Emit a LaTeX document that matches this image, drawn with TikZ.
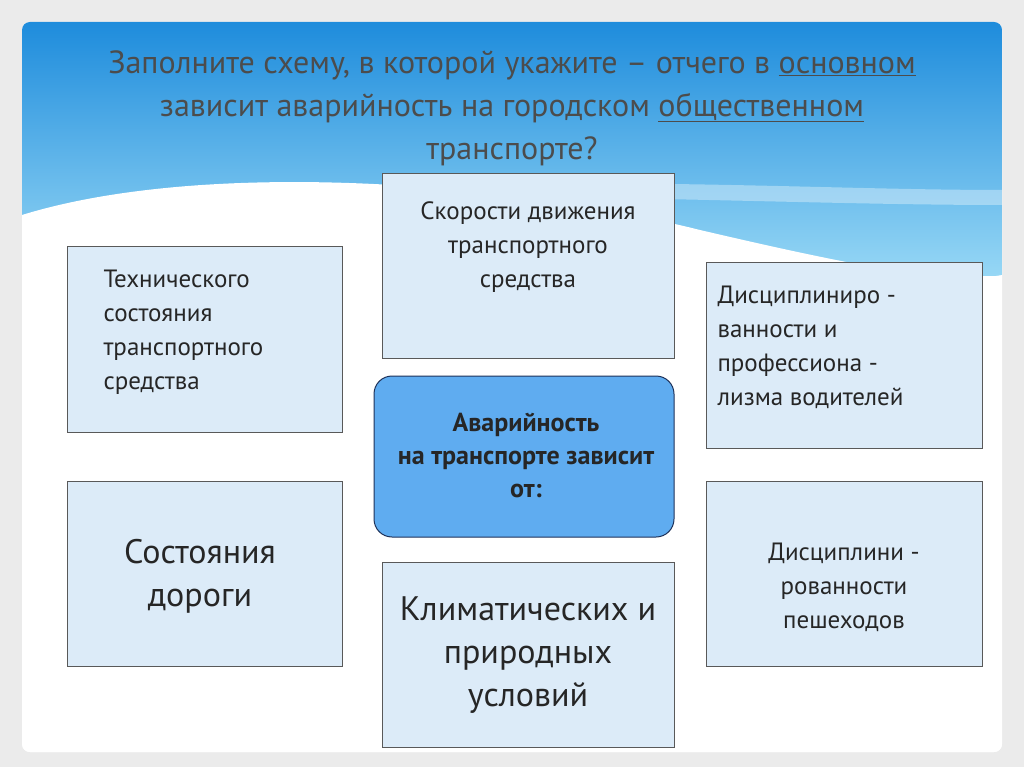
\documentclass[tikz,border=0pt]{standalone}
\usepackage{fontspec}
\setmainfont{PT Sans}
\newcommand\myul[1]{\underline{#1}}
\definecolor{boxfill}{RGB}{220,235,248}
\definecolor{cfill}{RGB}{95,172,240}
\definecolor{cdraw}{RGB}{30,50,90}
\definecolor{htop}{RGB}{30,140,220}
\definecolor{hbot}{RGB}{150,215,245}
\begin{document}
\begin{tikzpicture}[x=1pt,y=-1pt,
  box/.style={draw=black!65,fill=boxfill,line width=0.8pt,align=left,inner sep=0pt},
  txt/.style={font=\fontsize{25}{34}\selectfont,text=black!85,align=left},
  ctxt/.style={font=\fontsize{25}{34}\selectfont,text=black!85,align=center}]
\useasboundingbox (0,0) rectangle (1024,767);
\fill[black!8] (0,0) rectangle (1024,767);
\fill[white,rounded corners=8pt] (22,22) rectangle (1002,752);
\begin{scope}
\clip[rounded corners=8pt] (22,22) rectangle (1002,752);
\shade[top color=htop,bottom color=hbot] (22,22) rectangle (1002,275);
\fill[white] (22,215) .. controls (200,160) and (500,180) .. (700,230) .. controls (850,265) and (950,285) .. (1002,275) -- (1002,760) -- (22,760) -- cycle;
\fill[white,opacity=0.35] (300,200) .. controls (500,170) and (800,190) .. (1002,190) -- (1002,205) .. controls (800,205) and (500,190) .. (300,200);
\end{scope}
\node[font=\fontsize{32}{43}\selectfont,text=black!70,align=center] (title) at (512,108)
{Заполните схему, в которой укажите – отчего в \myul{основном}\\ зависит аварийность на городском \myul{общественном}\\ транспорте?};
\draw[box] (67,246) rectangle (342,432) node[pos=0.5] (b1) {};
\draw[box] (382,173) rectangle (674,358) node[pos=0.5] (b2) {};
\draw[box] (706,262) rectangle (982,448) node[pos=0.5] (b3) {};
\draw[box] (67,481) rectangle (342,666) node[pos=0.5] (b4) {};
\draw[box] (382,562) rectangle (674,747) node[pos=0.5] (b5) {};
\draw[box] (706,481) rectangle (982,666) node[pos=0.5] (b6) {};
\draw[draw=cdraw,fill=cfill,line width=1pt,rounded corners=18pt] (374,376) rectangle (674,537) node[pos=0.5] (c) {};
\node[txt,anchor=north west] (t1) at (100,266) {Технического\\состояния\\транспортного\\средства};
\node[ctxt,anchor=north] (t2) at (528,198) {Скорости движения\\транспортного\\средства};
\node[txt,anchor=north west] (t3) at (714,282) {Дисциплиниро -\\ванности и\\профессиона -\\лизма водителей};
\node[font=\fontsize{34}{43}\selectfont,text=black!85,align=center] (t4) at (200,576) {Состояния\\дороги};
\node[font=\fontsize{34}{43}\selectfont,text=black!85,align=center] (t5) at (528,655) {Климатических и\\природных\\условий};
\node[ctxt] (t6) at (844,587) {Дисциплини -\\рованности\\пешеходов};
\node[font=\bfseries\fontsize{26}{33}\selectfont,text=black!85,align=center] (t7) at (526,456) {Аварийность\\на транспорте зависит\\от:};
\end{tikzpicture}
\end{document}
